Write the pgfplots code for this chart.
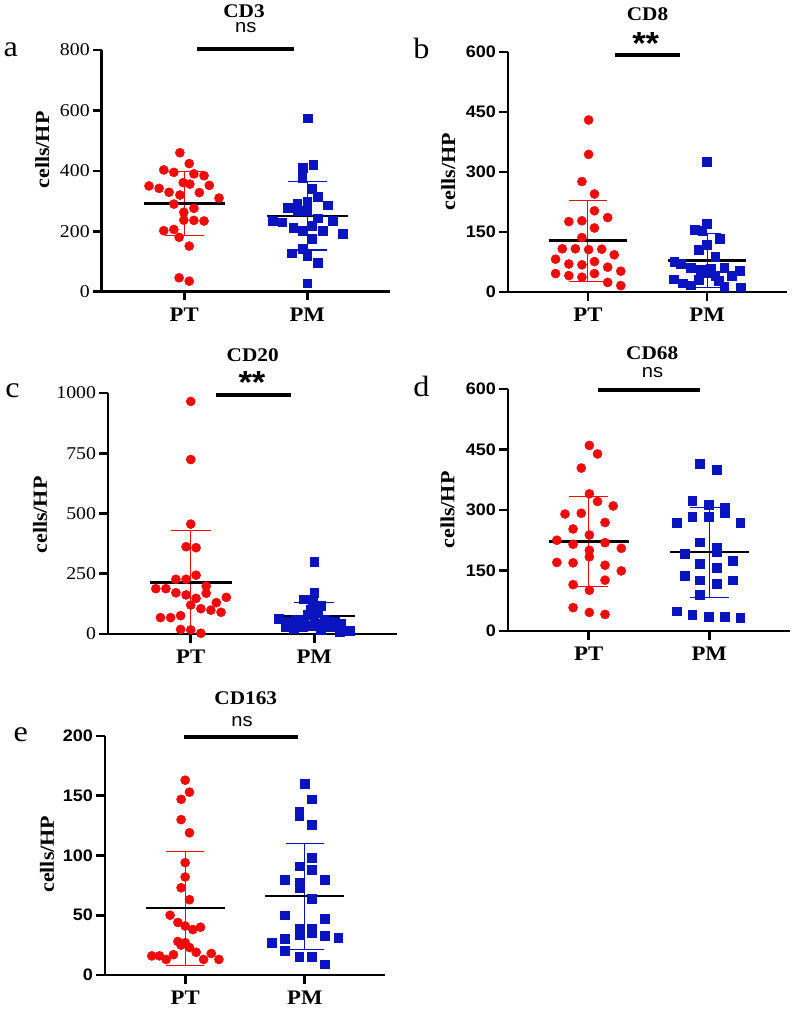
\documentclass[border=0pt]{standalone}
\usepackage{pgfplots}
\pgfplotsset{compat=1.18}
\usepackage{fontspec}
\setmainfont{Liberation Serif}
\newfontfamily\serifS{Liberation Serif}[FakeStretch=1.1]
\newfontfamily\sansS{Liberation Sans}[FakeStretch=1.08]
\definecolor{pr}{RGB}{240,10,10}
\definecolor{pb}{RGB}{10,20,190}
\newcommand\txt[4][]{\node[inner sep=0pt,#1] at ({#2*0.75pt},{(1012-#3)*0.75pt}) {#4};}
\newcommand\titf{\serifS\bfseries\fontsize{14.5}{16}\selectfont}
\newcommand\nsf{\sansS\fontsize{14}{15}\selectfont}
\newcommand\astf{\sansS\bfseries\fontsize{24}{26}\selectfont}
\newcommand\letf{\serifS\fontsize{22}{24}\selectfont}
\newcommand\ylf{\serifS\bfseries\fontsize{15}{17}\selectfont}
\pgfplotsset{
 panel/.style={
  scale only axis, anchor=south west,
  xmin=0.33, xmax=2.67, ymin=0,
  axis x line*=bottom, axis y line*=left,
  axis line style={line width=2pt,-},
  tick style={black, line width=2pt},
  major tick length=6.5pt, tick align=outside,
  xtick={1,2}, xticklabels={PT,PM},
  xticklabel style={font=\serifS\bfseries\fontsize{15.5}{17}\selectfont, yshift=-2pt},
  yticklabel style={xshift=1pt},
  clip=false, scaled ticks=false,
  /pgf/number format/1000 sep={},
  /pgf/number format/assume math mode=true,
  minor tick num=0,
 },
 serifticks/.style={yticklabel style={font=\serifS\fontsize{13.5}{15}\selectfont}},
 sansticks/.style={yticklabel style={font=\sansS\bfseries\fontsize{12.5}{14}\selectfont}},
 ptpts/.style={only marks, mark=*, mark size=3.4pt, color=pr, mark options={draw=pr, fill=pr}},
 pmpts/.style={only marks, mark=square*, mark size=3.3pt, color=pb, mark options={draw=pb, fill=pb}},
 sdr/.style={pr, line width=0.8pt},
 sdb/.style={pb, line width=0.8pt},
 meanl/.style={black, line width=1.8pt},
 sigl/.style={black, line width=3pt},
}
\begin{document}
\begin{tikzpicture}
\path[use as bounding box] (0,0) rectangle (600pt,759pt);
% ---------------- a: CD3
\begin{axis}[panel, serifticks, at={(76.3pt,540.2pt)}, width=216pt, height=181.3pt,
  ymax=800, ytick={0,200,400,600,800}]
\addplot[ptpts] table {
x y
0.965 460
1.041 424
0.834 403
0.916 395
1.079 390
1.161 384
0.714 350
0.796 342
0.992 361
1.046 356
1.204 352
0.877 329
0.965 320
1.123 328
1.283 310
0.916 290
0.997 263
1.079 276
0.997 237
1.079 236
1.161 234
0.834 202
0.916 206
0.959 180
1.041 151
0.959 46
1.041 35
};
\addplot[pmpts] table {
x y
2.005 574
2.049 419
1.965 411
1.959 377
2.041 342
2.082 315
2.169 286
1.842 279
1.918 290
2.000 298
1.924 268
2.000 268
2.082 243
1.722 235
1.796 230
2.204 235
2.041 218
2.286 193
1.886 212
1.959 201
2.123 202
2.041 174
1.959 143
1.877 127
2.000 118
2.082 96
2.000 28
};
\addplot[sdr] coordinates {(1,185) (1,397)};
\addplot[sdr] coordinates {(0.84,397) (1.16,397)};
\addplot[sdr] coordinates {(0.84,185) (1.16,185)};
\addplot[meanl] coordinates {(0.67,292) (1.33,292)};
\addplot[sdb] coordinates {(2,138) (2,364)};
\addplot[sdb] coordinates {(1.84,364) (2.16,364)};
\addplot[sdb] coordinates {(1.84,138) (2.16,138)};
\addplot[meanl] coordinates {(1.67,250) (2.33,250)};
\addplot[sigl] coordinates {(1.103,803) (1.889,803)};
\end{axis}
% ---------------- b: CD8
\begin{axis}[panel, sansticks, at={(381pt,540pt)}, width=209.25pt, height=180pt,
  ymax=600, ytick={0,150,300,450,600}]
\addplot[ptpts] table {
x y
1.006 430
1.006 344
0.950 276
1.055 245
1.055 203
1.166 186
0.840 176
0.950 178
1.055 160
0.950 136
0.785 108
0.895 108
1.006 106
1.116 107
1.221 93
0.729 82
1.055 76
0.840 70
0.950 68
1.166 62
1.276 52
0.729 46
0.840 41
0.950 37
1.055 46
1.166 24
1.276 16
};
\addplot[pmpts] table {
x y
2.000 326
2.000 170
1.895 155
1.959 153
2.105 133
2.000 118
1.931 106
2.069 89
1.724 76
1.779 71
1.862 60
1.945 56
2.033 58
2.144 60
2.276 53
2.207 41
2.069 41
1.986 49
1.718 32
1.793 22
1.862 17
1.931 31
2.144 14
2.282 12
2.097 28
};
\addplot[sdr] coordinates {(1,27) (1,229)};
\addplot[sdr] coordinates {(0.84,229) (1.16,229)};
\addplot[sdr] coordinates {(0.84,27) (1.16,27)};
\addplot[meanl] coordinates {(0.67,129) (1.33,129)};
\addplot[sdb] coordinates {(2,12) (2,147)};
\addplot[sdb] coordinates {(1.88,147) (2.12,147)};
\addplot[sdb] coordinates {(1.88,12) (2.12,12)};
\addplot[meanl] coordinates {(1.67,79) (2.33,79)};
\addplot[sigl] coordinates {(1.226,593) (1.771,593)};
\end{axis}
% ---------------- c: CD20
\begin{axis}[panel, serifticks, at={(81pt,283.5pt)}, width=216.75pt, height=180.75pt,
  ymax=1000, ytick={0,250,500,750,1000}]
\addplot[ptpts] table {
x y
1.000 965
1.000 724
1.000 456
0.962 362
1.043 358
1.043 244
0.880 227
0.962 227
1.125 199
0.717 188
0.799 188
0.880 171
0.962 162
1.125 169
1.043 148
1.288 152
1.207 130
1.000 120
1.082 105
1.163 99
1.245 90
0.755 68
0.837 68
0.918 76
0.918 19
1.000 17
1.082 3
};
\addplot[pmpts] table {
x y
2.000 300
2.000 171
1.918 144
1.986 141
2.054 116
1.973 99
2.027 86
1.946 79
1.715 62
1.783 51
1.851 58
1.918 61
2.000 68
2.082 58
2.163 51
2.217 41
2.054 41
1.769 28
1.837 23
1.905 30
1.986 33
2.136 28
2.285 14
2.204 10
2.054 19
};
\addplot[sdr] coordinates {(1,0) (1,428)};
\addplot[sdr] coordinates {(0.84,428) (1.16,428)};
\addplot[meanl] coordinates {(0.67,213) (1.33,213)};
\addplot[sdb] coordinates {(2,15) (2,130)};
\addplot[sdb] coordinates {(1.84,130) (2.16,130)};
\addplot[sdb] coordinates {(1.84,15) (2.16,15)};
\addplot[meanl] coordinates {(1.67,74) (2.33,74)};
\addplot[sigl] coordinates {(1.207,990) (1.812,990)};
\end{axis}
% ---------------- d: CD68
\begin{axis}[panel, sansticks, at={(381pt,285.75pt)}, width=211.5pt, height=181.5pt,
  ymax=600, ytick={0,150,300,450,600}]
\addplot[ptpts] table {
x y
1.005 460
1.073 439
0.938 404
1.005 340
1.073 321
1.203 310
0.803 290
0.938 292
1.135 269
0.870 253
1.005 238
0.735 225
0.870 215
1.135 219
1.270 205
1.005 200
1.005 184
0.735 170
0.870 169
1.135 163
1.270 149
1.135 126
0.870 115
1.005 101
0.870 58
1.005 46
1.135 41
};
\addplot[pmpts] table {
x y
1.924 414
2.059 399
1.859 322
1.995 312
2.130 307
2.130 294
1.859 283
1.995 283
1.730 269
2.257 269
1.924 220
2.059 206
2.059 196
1.797 192
2.195 174
1.924 167
2.059 157
1.797 136
1.924 126
2.059 118
2.195 126
1.924 89
1.730 49
1.859 41
1.995 36
2.130 36
2.257 32
};
\addplot[sdr] coordinates {(1,111) (1,333)};
\addplot[sdr] coordinates {(0.84,333) (1.16,333)};
\addplot[sdr] coordinates {(0.84,111) (1.16,111)};
\addplot[meanl] coordinates {(0.67,222) (1.33,222)};
\addplot[sdb] coordinates {(2,83) (2,307)};
\addplot[sdb] coordinates {(1.84,307) (2.16,307)};
\addplot[sdb] coordinates {(1.84,83) (2.16,83)};
\addplot[meanl] coordinates {(1.67,196) (2.33,196)};
\addplot[sigl] coordinates {(1.076,597.5) (1.927,597.5)};
\end{axis}
% ---------------- e: CD163
\begin{axis}[panel, sansticks, at={(78.75pt,27.75pt)}, width=210pt, height=179.25pt,
  ymax=200, ytick={0,50,100,150,200}]
\addplot[ptpts] table {
x y
1.000 163
1.036 153
0.966 147
0.966 130
1.036 119
1.000 94
1.000 82
0.966 73
1.036 63
0.874 50
0.939 44
1.000 41
1.064 38
1.128 40
0.939 28
1.000 27
0.966 25
1.036 23
1.092 19
0.721 16
0.785 16
0.841 13
0.902 17
1.154 13
1.218 18
1.282 13
};
\addplot[pmpts] table {
x y
2.000 160
2.056 147
1.953 137
1.953 133
2.056 126
2.056 98
1.953 91
2.056 88
1.832 80
2.168 80
1.953 77
1.953 73
2.056 64
1.832 50
2.168 47
1.953 39
2.056 39
1.953 34
2.056 35
2.168 33
2.279 31
1.832 30
1.721 27
1.832 20
1.953 15
2.056 15
2.168 9
};
\addplot[sdr] coordinates {(1,8) (1,103)};
\addplot[sdr] coordinates {(0.84,103) (1.16,103)};
\addplot[sdr] coordinates {(0.84,8) (1.16,8)};
\addplot[meanl] coordinates {(0.67,56) (1.33,56)};
\addplot[sdb] coordinates {(2,21) (2,110)};
\addplot[sdb] coordinates {(1.84,110) (2.16,110)};
\addplot[sdb] coordinates {(1.84,21) (2.16,21)};
\addplot[meanl] coordinates {(1.67,66) (2.33,66)};
\addplot[sigl] coordinates {(0.992,198.9) (1.939,198.9)};
\end{axis}
% ---------------- titles, significance, letters, y labels
\txt[anchor=base]{244}{17.8}{\titf CD3}
\txt[anchor=base]{245.8}{33}{\nsf ns}
\txt[anchor=base]{647.5}{20.7}{\titf CD8}
\txt[anchor=base]{645.7}{54.5}{\astf **}
\txt[anchor=base]{252.7}{361.7}{\titf CD20}
\txt[anchor=base]{252}{393.8}{\astf **}
\txt[anchor=base]{652.2}{359.3}{\titf CD68}
\txt[anchor=base]{652.5}{377.8}{\nsf ns}
\txt[anchor=base]{245.8}{704.3}{\titf CD163}
\txt[anchor=base]{242}{726.2}{\nsf ns}
\txt[anchor=base west]{3.3}{56.7}{\letf a}
\txt[anchor=base west]{413}{58.3}{\letf b}
\txt[anchor=base west]{5}{398}{\letf c}
\txt[anchor=base west]{413}{397}{\letf d}
\txt[anchor=base west]{13.3}{741.7}{\letf e}
\txt[rotate=90]{42.2}{150}{\ylf cells/HP}
\txt[rotate=90]{448.3}{171.7}{\ylf cells/HP}
\txt[rotate=90]{40}{515}{\ylf cells/HP}
\txt[rotate=90]{447.5}{510}{\ylf cells/HP}
\txt[rotate=90]{47}{854.2}{\ylf cells/HP}
\end{tikzpicture}
\end{document}
